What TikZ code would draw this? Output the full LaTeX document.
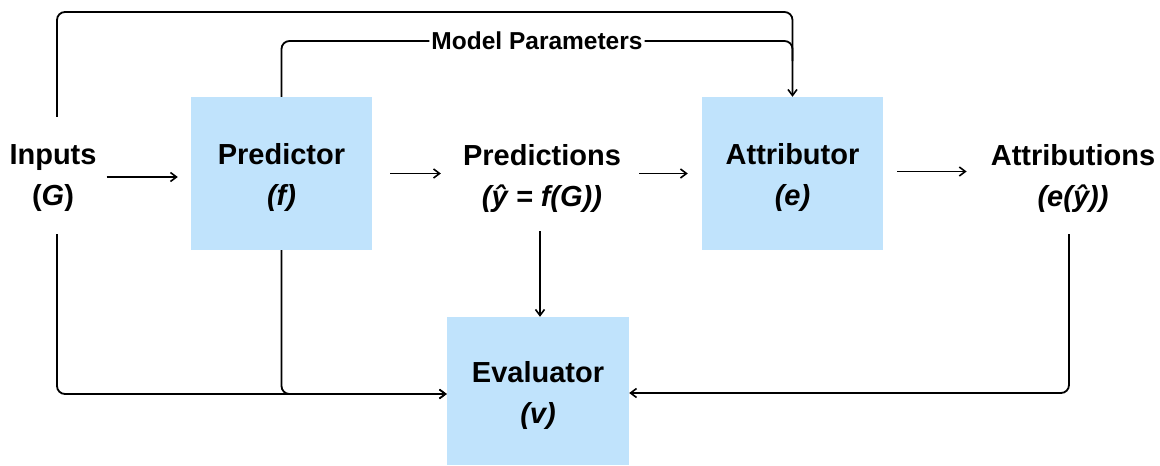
\documentclass[tikz,border=0pt]{standalone}
\usepackage{fontspec}
\setmainfont{Liberation Sans}
\usetikzlibrary{arrows.meta,calc}
\definecolor{boxblue}{RGB}{192,227,252}
% strut that lowers a two-line label inside its node
\newcommand{\lowerby}[1]{\rule{0pt}{\dimexpr 20.8pt+2\dimexpr #1\relax\relax}}
\begin{document}
\begin{tikzpicture}[x=1pt,y=-1pt,
  stage/.style={fill=boxblue, inner sep=0pt, align=center,
    font=\bfseries\fontsize{29}{41}\selectfont},
  lbl/.style={inner sep=0pt, align=center,
    font=\bfseries\fontsize{29}{41}\selectfont},
  wire/.style={line width=1.8pt, line join=round},
  arr/.style={wire, -{Straight Barb[length=6pt,width=9pt,line width=1.6pt]}},
  tag/.style={fill=white, inner sep=2pt,
    font=\bfseries\fontsize{24.5}{28}\selectfont}]
\useasboundingbox (0,0) rectangle (1160,466);

% processing stages
\node[stage, minimum width=181pt, minimum height=153pt] (pred) at (281.5,173.5)
  {\lowerby{4pt}Predictor\\\textit{(f)}};
\node[stage, minimum width=181pt, minimum height=153pt] (attr) at (792.5,173.5)
  {\lowerby{4pt}Attributor\\\textit{(e)}};
\node[stage, minimum width=182pt, minimum height=148pt] (eval) at (538,391)
  {\lowerby{5pt}Evaluator\\\textit{(v)}};

% data items
\node[lbl, minimum height=117pt] (inp) at (53,175.5) {\lowerby{2.5pt}Inputs\\(\textit{G})};
\node[lbl, minimum height=110pt] (prd) at (542,176) {\lowerby{2.5pt}Predictions\\\textit{(ŷ = f(G))}};
\node[lbl, minimum height=116pt] (atb) at (1073,176) {\lowerby{2.5pt}Attributions\\\textit{(e(ŷ))}};

% corner points of the feedback wires
\coordinate (topA) at (792.5,12);
\coordinate (topB) at (792.5,41);

% main flow
\draw[arr, shorten <=10pt, shorten >=13pt] ([yshift=-1.5pt]inp.east) -- ([yshift=-1.5pt]inp.east -| pred.west);
\draw[arr, shorten <=18pt, shorten >=22pt] (pred.east) -- (pred.east -| prd.west);
\draw[arr, shorten <=18pt, shorten >=14pt] (prd.east |- attr.west) -- (attr.west);
\draw[arr, shorten <=14pt, shorten >=24pt] ([yshift=2pt]attr.east) -- ([yshift=2pt]attr.east -| atb.west);

% inputs and model parameters to the attributor
\draw[arr, rounded corners=8pt] ([xshift=4pt]inp.north) |- (topA) -- (attr.north);
\draw[wire, rounded corners=8pt] (pred.north) |- node[tag, pos=0.75] (mp) {Model Parameters} (topB) -- ++(0,20);

% everything into the evaluator
\draw[arr] ([xshift=-2pt]prd.south) -- ([xshift=-2pt]prd.south |- eval.north);
\draw[arr, rounded corners=8pt] ([xshift=4pt]inp.south) |- ([yshift=-3pt]eval.west);
\draw[arr, rounded corners=8pt] (pred.south) |- ([yshift=-3pt]eval.west);
\draw[arr, rounded corners=8pt] ([xshift=-4pt]atb.south) |- ([yshift=-2pt]eval.east);
\end{tikzpicture}
\end{document}
